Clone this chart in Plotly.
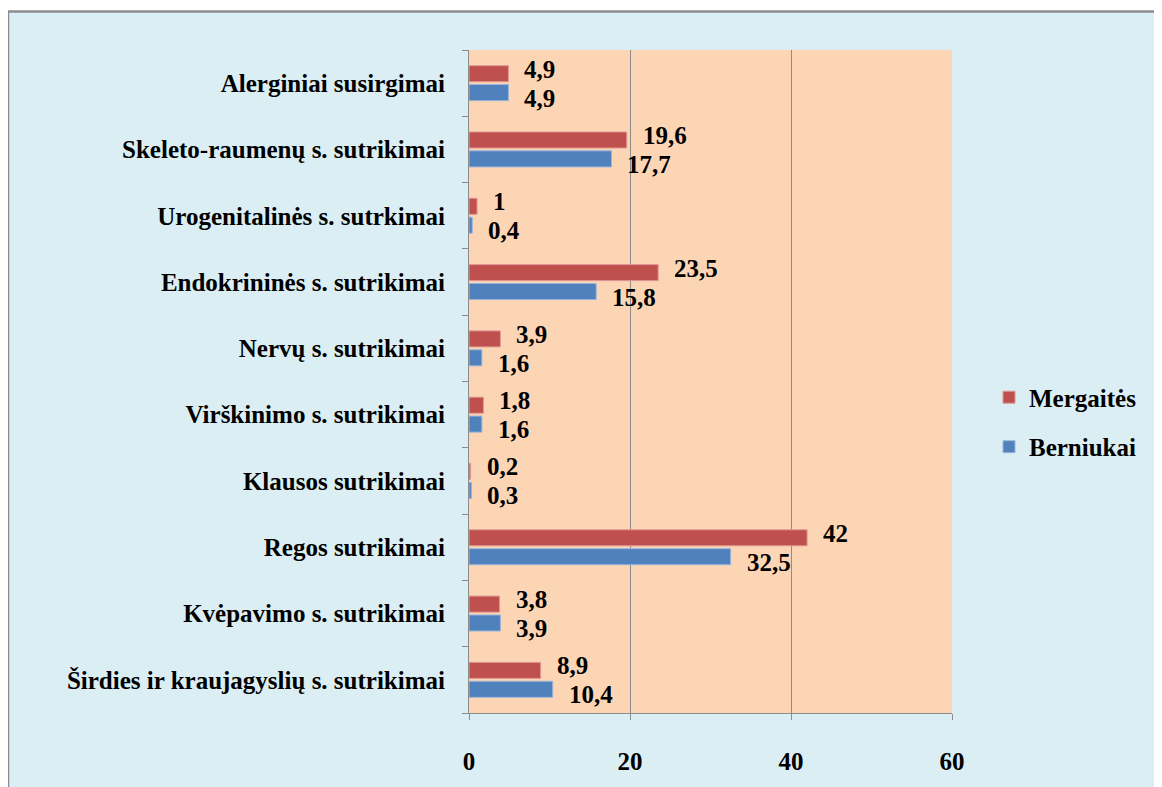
import plotly.graph_objects as go

categories = [
    "Širdies ir kraujagyslių s. sutrikimai",
    "Kvėpavimo s. sutrikimai",
    "Regos sutrikimai",
    "Klausos sutrikimai",
    "Virškinimo s. sutrikimai",
    "Nervų s. sutrikimai",
    "Endokrininės s. sutrikimai",
    "Urogenitalinės s. sutrkimai",
    "Skeleto-raumenų s. sutrikimai",
    "Alerginiai susirgimai",
]
mergaites = [8.9, 3.8, 42, 0.2, 1.8, 3.9, 23.5, 1, 19.6, 4.9]
berniukai = [10.4, 3.9, 32.5, 0.3, 1.6, 1.6, 15.8, 0.4, 17.7, 4.9]
x_ticks = [0, 20, 40, 60]

RED = "#C0504D"
BLUE = "#4F81BD"
FONT = "Liberation Serif"
FS = 25
BOLD = dict(family=FONT, size=FS, color="black", weight="bold")


def fmt(v):
    return ("%g" % v).replace(".", ",")


fig = go.Figure()
fig.add_trace(go.Bar(
    y=categories, x=berniukai, orientation="h", name="Berniukai",
    marker=dict(color=BLUE, line=dict(color="#9AB5DB", width=1)),
    legendgroup="b", legendrank=2, hoverinfo="x+y",
))
fig.add_trace(go.Bar(
    y=categories, x=mergaites, orientation="h", name="Mergaitės",
    marker=dict(color=RED, line=dict(color="#E09A98", width=1)),
    legendgroup="a", legendrank=1, hoverinfo="x+y",
))

annotations = []
for vals, ys in ((mergaites, 14), (berniukai, -15)):
    for cat, v in zip(categories, vals):
        annotations.append(dict(x=v, y=cat, xref="x", yref="y", text=fmt(v),
                                showarrow=False, xanchor="left", yanchor="middle",
                                xshift=14, yshift=ys, font=BOLD))

# page body has an 8px margin; work in reference pixel coordinates
OFF = 8
W, H = 1162 - OFF, 787 - OFF
PL, PR, PT, PB = 469, 952, 50, 722  # plot area in reference pixels
L, R = PL - OFF, W - (PR - OFF)
T, B = PT - OFF, H - (PB - OFF)
pw, ph = PR - PL, PB - PT


def px_x(p):
    return (p - PL) / pw


def px_y(p):
    return (PB - p) / ph


shapes = [
    dict(type="rect", xref="paper", yref="paper", layer="below",
         x0=px_x(8), x1=px_x(1159), y0=px_y(800), y1=px_y(11),
         fillcolor="#DBEEF4", line=dict(color="#8C8C8C", width=2.5)),
    dict(type="rect", xref="paper", yref="paper", layer="below",
         x0=0, x1=1, y0=0, y1=1, fillcolor="#FCD5B5", line=dict(width=0)),
]

fig.update_layout(
    width=W, height=H,
    margin=dict(l=L, r=R, t=T, b=B),
    paper_bgcolor="white",
    plot_bgcolor="rgba(0,0,0,0)",
    barmode="group",
    bargap=0.43,
    bargroupgap=0.15,
    font=BOLD,
    shapes=shapes,
    annotations=annotations,
    showlegend=True,
    legend=dict(
        x=px_x(989), y=px_y(427), xanchor="left", yanchor="middle",
        traceorder="grouped", tracegroupgap=14,
        font=BOLD, bgcolor="rgba(0,0,0,0)", itemwidth=30,
    ),
    xaxis=dict(
        range=[0, 60], tickvals=x_ticks, ticktext=[str(t) for t in x_ticks],
        showgrid=True, gridcolor="#8C8C8C", gridwidth=1,
        zeroline=False, showline=True, linecolor="#8C8C8C", linewidth=1,
        ticks="outside", ticklen=6, tickcolor="#8C8C8C",
        ticklabelstandoff=20, fixedrange=True, tickfont=BOLD,
    ),
    yaxis=dict(
        categoryorder="array", categoryarray=categories,
        showline=True, linecolor="#8C8C8C", linewidth=1,
        ticks="outside", ticklen=6, tickcolor="#8C8C8C",
        tickson="boundaries", showgrid=False, zeroline=False,
        ticklabelstandoff=18, fixedrange=True, tickfont=BOLD,
    ),
)

fig.write_html("out.html")
